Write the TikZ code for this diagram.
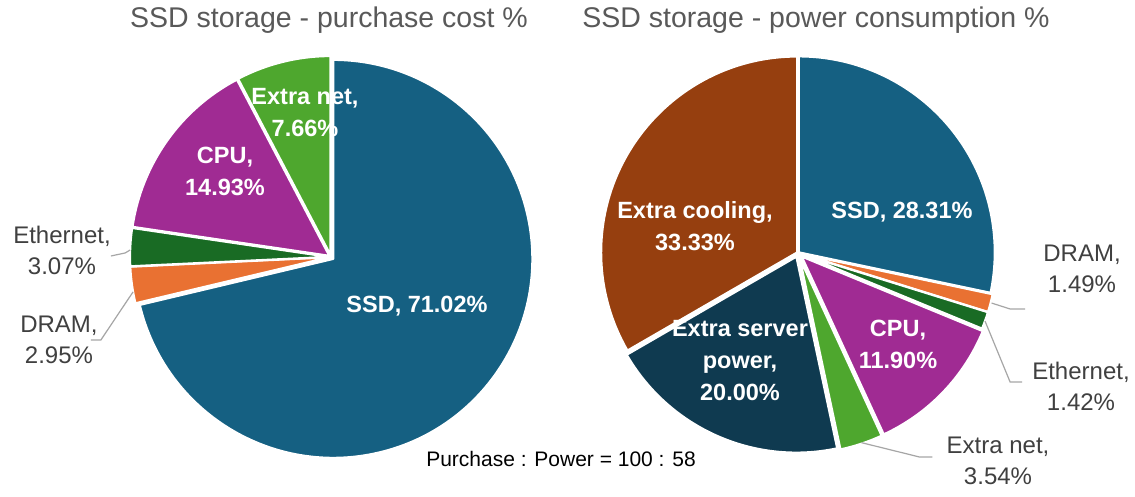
\documentclass[tikz,border=0pt]{standalone}
\usepackage{fontspec}
\setmainfont{Liberation Sans}
\usetikzlibrary{positioning}

\definecolor{ssdblue}{HTML}{156082}
\definecolor{dramorange}{HTML}{E97132}
\definecolor{ethgreen}{HTML}{196B24}
\definecolor{cpupurple}{HTML}{A02B93}
\definecolor{netgreen}{HTML}{4EA72E}
\definecolor{coolbrown}{HTML}{963F0F}
\definecolor{srvnavy}{HTML}{0F3A50}
\definecolor{titlegrey}{HTML}{595959}
\definecolor{labelgrey}{HTML}{404040}
\definecolor{leadergrey}{HTML}{A6A6A6}

% one slice: start angle, end angle, explode, colour, radius
\newcommand{\pieslice}[5]{%
  \pgfmathsetmacro\midang{(#1+#2)/2}
  \fill[#4, draw=white, line width=2.2pt, line join=round, shift={(\midang:#3)}]
    (0,0) -- (#1:#5) arc[start angle=#1, end angle=#2, radius=#5] -- cycle;}

\begin{document}
\begin{tikzpicture}[x=1pt, y=1pt,
  charttitle/.style={anchor=base, text=titlegrey, font=\fontsize{28.5}{34}\selectfont},
  inlabel/.style={text=white, align=center, inner sep=0pt, font=\fontsize{23.5}{32}\selectfont\bfseries},
  outlabel/.style={text=labelgrey, align=center, inner sep=0pt, font=\fontsize{24}{31}\selectfont},
  leader/.style={draw=leadergrey, line width=1.2pt}]
\fill[white] (0,0) rectangle (1135,497);
\useasboundingbox (0,0) rectangle (1135,497);

\node[charttitle] (titleL) at (329,469) {SSD storage - purchase cost \%};
\node[charttitle] (titleR) at (816,469) {SSD storage - power consumption \%};

% purchase cost pie
\begin{scope}[shift={(331,240)}]
  \pieslice{193.38}{450}{3}{ssdblue}{199}
  \pieslice{182.72}{193.38}{2}{dramorange}{199}
  \pieslice{171.63}{182.72}{2}{ethgreen}{199}
  \pieslice{117.68}{171.63}{2}{cpupurple}{199}
  \pieslice{90}{117.68}{2}{netgreen}{199}
  \coordinate (ethLtip) at (178:201);
  \coordinate (drmLtip) at (190:201);
\end{scope}

% power consumption pie
\begin{scope}[shift={(798,244)}]
  \pieslice{-11.92}{90}{1}{ssdblue}{196}
  \pieslice{-17.28}{-11.92}{3}{dramorange}{196}
  \pieslice{-22.39}{-17.28}{3}{ethgreen}{196}
  \pieslice{-65.23}{-22.39}{5}{cpupurple}{196}
  \pieslice{-77.97}{-65.23}{5}{netgreen}{196}
  \pieslice{-149.97}{-77.97}{4}{srvnavy}{196}
  \pieslice{90}{210.03}{1}{coolbrown}{196}
  \coordinate (drmRtip) at (-14.5:200);
  \coordinate (ethRtip) at (-20:199);
  \coordinate (xnRtip) at (-71.5:200);
\end{scope}

\node[inlabel] (xnLlbl) at (305,384) {Extra net,\\7.66\%};
\node[inlabel] (cpuLlbl) at (225,326) {CPU,\\14.93\%};
\node[inlabel] (ssdLlbl) at (417,191) {SSD, 71.02\%};

\node[inlabel] (ssdRlbl) at (902,285) {SSD, 28.31\%};
\node[inlabel] (coolRlbl) at (695,271) {Extra cooling,\\33.33\%};
\node[inlabel] (srvRlbl) at (740,136) {Extra server\\power,\\20.00\%};
\node[inlabel] (cpuRlbl) at (898,153) {CPU,\\11.90\%};

\node[outlabel] (ethLlbl) at (62,247) {Ethernet,\\3.07\%};
\node[outlabel] (drmLlbl) at (59,157) {DRAM,\\2.95\%};
\node[outlabel] (drmRlbl) at (1082,228) {DRAM,\\1.49\%};
\node[outlabel] (ethRlbl) at (1081,111) {Ethernet,\\1.42\%};
\node[outlabel] (xnRlbl) at (998,36) {Extra net,\\3.54\%};

% leader lines
\draw[leader] (ethLtip) -- ++(-5,-3) -- ([yshift=-6pt]ethLlbl.east);
\draw[leader] (drmLtip) -- ([xshift=3pt]drmLlbl.east) -- ([xshift=-7pt]drmLlbl.east);
\draw[leader] (drmRtip) -- ([xshift=-33pt,yshift=-40pt]drmRlbl.west) -- ([xshift=-18pt,yshift=-40pt]drmRlbl.west);
\draw[leader] (ethRtip) -- ([xshift=-22pt,yshift=4pt]ethRlbl.west) -- ([xshift=-10pt,yshift=4pt]ethRlbl.west);
\draw[leader] (xnRtip) -- ([xshift=-27pt,yshift=4pt]xnRlbl.west) -- ([xshift=-14pt,yshift=4pt]xnRlbl.west);

\node[anchor=base, text=black, font=\fontsize{21}{25}\selectfont] (ratio) at (561,30) {Purchase : Power = 100 : 58};
\end{tikzpicture}
\end{document}
